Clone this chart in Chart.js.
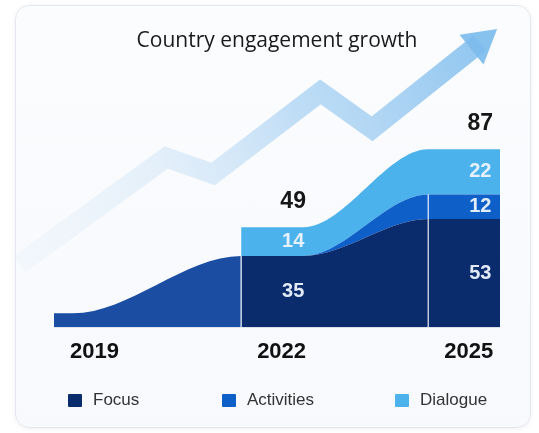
<!DOCTYPE html>
<html>
<head>
<meta charset="utf-8">
<script src="https://cdn.jsdelivr.net/npm/chart.js@4.4.1/dist/chart.umd.min.js"></script>
<style>
  html, body { margin: 0; padding: 0; background: #fff; }
  body { width: 539px; height: 433px; position: relative; overflow: hidden; font-family: 'Liberation Sans', Arial, sans-serif; }
  .card {
    position: absolute; left: 15px; top: 5px; width: 514px; height: 421px;
    border-radius: 14px; border: 1px solid #e4e8ee;
    background: linear-gradient(180deg, #fbfcfe 0%, #f7f9fc 100%);
    box-shadow: 0 1px 5px rgba(0, 0, 0, 0.06);
  }
  #wrap { position: absolute; left: 0; top: 0; width: 539px; height: 433px; }
  #legend { position: absolute; left: 0; top: 390px; width: 539px; height: 20px; }
  #legend .item { position: absolute; top: 0; display: flex; align-items: center; font-size: 17px; color: #333; }
  #legend .item:nth-child(1) { left: 68px; }
  #legend .item:nth-child(2) { left: 222px; }
  #legend .item:nth-child(3) { left: 395px; }
  #legend .box { width: 14px; height: 13px; margin-right: 11px; border-radius: 1px; }
</style>
</head>
<body>
<div class="card"></div>
<div id="wrap"><canvas id="growth" width="539" height="433"></canvas></div>
<div id="legend"></div>
<script>
(function () {
  // engagement per year, stacked focus / activities / dialogue
  const years = [2019, 2022, 2025];
  const focus = [7, 35, 53];
  const activities = [null, 0, 12];
  const dialogue = [null, 14, 22];
  const labelledYears = [2022, 2025];

  // decorative growth arrow, in year / value units
  const arrowX = [2018.45, 2020.8, 2021.55, 2023.27, 2024.1, 2025.83];
  const arrowY = [31, 83, 75, 115, 97, 139];

  const X_MIN = 2019;
  const X_MAX = 2026.15;
  const PLATEAU = [0.3, 1.0]; // flat top of each year's column, in years
  const LABEL_DX = 52;

  const colors = {
    early: '#1b4ea2',
    focus: '#0b2c6c',
    activities: '#0f5fc9',
    dialogue: '#4cb2ec',
  };

  function add(a, b) {
    return a.map((v, i) => (v == null || b[i] == null ? null : v + b[i]));
  }

  const focusTop = focus.slice();
  const activitiesTop = add(focusTop, activities);
  const dialogueTop = add(activitiesTop, dialogue);

  function toPoints(values) {
    const pts = [];
    years.forEach((yr, i) => {
      const end = i === years.length - 1 ? X_MAX : yr + PLATEAU[i];
      pts.push({ x: yr, y: values[i] }, { x: end, y: values[i] });
    });
    return pts;
  }

  const focusPts = toPoints(focusTop);

  const valueLabels = {
    id: 'valueLabels',
    afterDatasetsDraw(chart) {
      const { ctx, scales: { x, y } } = chart;
      ctx.save();
      ctx.textAlign = 'center';
      ctx.textBaseline = 'middle';
      years.forEach((yr, i) => {
        if (!labelledYears.includes(yr)) return;
        const px = x.getPixelForValue(yr);
        // thin white divider at the start of each column
        ctx.strokeStyle = 'rgba(255,255,255,0.75)';
        ctx.lineWidth = 1.5;
        ctx.beginPath();
        ctx.moveTo(px, y.getPixelForValue(0));
        ctx.lineTo(px, y.getPixelForValue(activitiesTop[i]));
        ctx.stroke();

        const cx = px + LABEL_DX;
        let base = 0;
        [focus, activities, dialogue].forEach((series) => {
          const v = series[i] || 0;
          if (v > 0) {
            ctx.font = 'bold 20px "Liberation Sans", Arial, sans-serif';
            ctx.fillStyle = 'rgba(238,244,255,0.95)';
            ctx.fillText(String(v), cx, y.getPixelForValue(base + v / 2));
          }
          base += v;
        });
        ctx.font = 'bold 23px "Liberation Sans", Arial, sans-serif';
        ctx.fillStyle = '#161616';
        ctx.fillText(String(base), cx, y.getPixelForValue(base) - 26);
      });
      ctx.restore();
    },
  };

  const canvas = document.getElementById('growth');
  const chart = new Chart(canvas.getContext('2d'), {
    type: 'line',
    data: {
      datasets: [
        {
          label: 'Focus',
          data: focusPts,
          backgroundColor: colors.focus,
          borderWidth: 0,
          pointRadius: 0,
          fill: 'origin',
          segment: {
            backgroundColor: (c) => (focusPts[c.p1DataIndex].x <= years[1] ? colors.early : undefined),
          },
        },
        {
          label: 'Activities',
          data: toPoints(activitiesTop),
          backgroundColor: colors.activities,
          borderWidth: 0,
          pointRadius: 0,
          fill: '-1',
        },
        {
          label: 'Dialogue',
          data: toPoints(dialogueTop),
          backgroundColor: colors.dialogue,
          borderWidth: 0,
          pointRadius: 0,
          fill: '-1',
        },
        {
          label: 'trend',
          data: arrowX.map((x, i) => ({ x, y: arrowY[i] })),
          order: 10,
          clip: false,
          fill: false,
          tension: 0,
          cubicInterpolationMode: 'default',
          borderWidth: 20,
          borderJoinStyle: 'miter',
          borderCapStyle: 'butt',
          borderColor: (c) => {
            const g = c.chart.ctx.createLinearGradient(0, 300, 520, 20);
            g.addColorStop(0, 'rgba(200,225,246,0.05)');
            g.addColorStop(0.35, 'rgba(175,212,242,0.30)');
            g.addColorStop(0.6, 'rgba(150,200,240,0.60)');
            g.addColorStop(1, 'rgba(120,185,236,0.90)');
            return g;
          },
          pointRadius: (c) => (c.dataIndex === arrowX.length - 1 ? 22 : 0),
          pointStyle: 'triangle',
          rotation: 51,
          pointBackgroundColor: 'rgba(125,188,237,0.92)',
          pointBorderWidth: 0,
        },
      ],
    },
    options: {
      responsive: false,
      animation: false,
      events: [],
      layout: { padding: { left: 54, right: 39, top: 28, bottom: 57 } },
      elements: { line: { cubicInterpolationMode: 'monotone' } },
      scales: {
        x: {
          type: 'linear',
          min: X_MIN,
          max: X_MAX,
          afterBuildTicks: (axis) => {
            axis.ticks = years.map((v) => ({ value: v }));
          },
          grid: { display: false, drawTicks: false },
          border: { display: false },
          ticks: {
            align: 'start',
            labelOffset: 16,
            padding: 11,
            color: '#111',
            font: { family: '"Liberation Sans", Arial, sans-serif', size: 22, weight: 'bold' },
            callback: (v) => String(v),
          },
        },
        y: { display: false, min: 0, max: 130 },
      },
      plugins: {
        legend: { display: false },
        tooltip: { enabled: false },
        title: {
          display: true,
          text: 'Country engagement growth',
          color: '#1a1a1a',
          font: { family: '"Open Sans", sans-serif', size: 21, weight: 'normal' },
          padding: { top: 0, bottom: 8 },
        },
      },
    },
    plugins: [valueLabels],
  });

  // legend as plain markup, from the stacked datasets
  const legendEl = document.getElementById('legend');
  chart.data.datasets.slice(0, 3).forEach((ds) => {
    const item = document.createElement('div');
    item.className = 'item';
    const box = document.createElement('span');
    box.className = 'box';
    box.style.background = ds.backgroundColor;
    const txt = document.createElement('span');
    txt.textContent = ds.label;
    item.appendChild(box);
    item.appendChild(txt);
    legendEl.appendChild(item);
  });
})();
</script>
</body>
</html>
